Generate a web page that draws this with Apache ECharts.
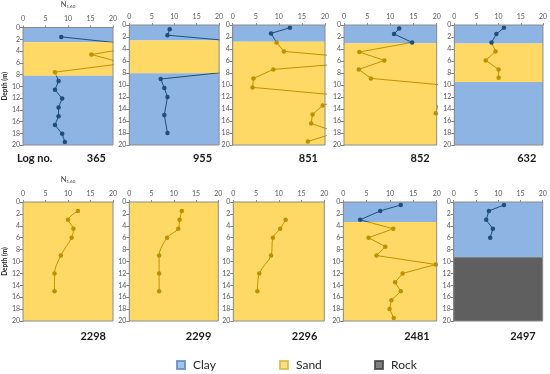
<!DOCTYPE html>
<html><head><meta charset="utf-8">
<script src="https://cdn.jsdelivr.net/npm/echarts@6/dist/echarts.min.js"></script>
<style>html,body{margin:0;padding:0;background:#fff}#c{width:550px;height:374px}</style>
</head><body><div id="c"></div>
<script>
// ---------- data ----------
const logNames = ['365', '955', '851', '852', '632', '2298', '2299', '2296', '2481', '2497'];
const xTickValues = [0, 5, 10, 15, 20];
const yTickValues = [0, 2, 4, 6, 8, 10, 12, 14, 16, 18, 20];
const soilTypes = ['Clay', 'Sand', 'Rock'];

const depth365 = [1.6, 3.1, 4.6, 6.1, 7.6, 9.1, 10.6, 12.1, 13.6, 15.1, 16.6, 18.1, 19.5];
const n365 = [8.5, 27, 15.2, 22.5, 7.1, 7.9, 7.1, 8.7, 7.9, 7.9, 7.1, 8.7, 9.3];
const layers365 = [['Clay', 0, 2.5], ['Sand', 2.5, 8.2], ['Clay', 8.2, 20]];

const depth955 = [0.7, 1.7, 3.0, 4.5, 6.0, 7.5, 9.0, 10.5, 12.0, 15.0, 18.0];
const n955 = [9.0, 8.5, 28, 40, 40, 26, 7.0, 7.8, 8.5, 7.8, 8.5];
const layers955 = [['Clay', 0, 2.6], ['Sand', 2.6, 8.05], ['Clay', 8.05, 20]];

const depth851 = [0.45, 1.4, 2.9, 4.4, 5.9, 7.4, 8.9, 10.4, 11.9, 13.4, 14.9, 16.4, 17.9, 19.4];
const n851 = [12.4, 8.3, 9.5, 11.1, 33, 8.8, 4.5, 4.3, 25.7, 19.5, 17.3, 17.0, 22.6, 16.3];
const layers851 = [['Clay', 0, 2.8], ['Sand', 2.8, 20]];

const depth852 = [0.6, 1.5, 2.9, 4.5, 5.9, 7.4, 8.9, 10.4, 11.9, 13.3, 14.7, 16.2, 17.7, 19.2];
const n852 = [11.9, 10.8, 14.7, 3.3, 8.7, 3.2, 5.8, 27, 30, 20.3, 19.8, 22, 28, 30];
const layers852 = [['Clay', 0, 3.05], ['Sand', 3.05, 20]];

const depth632 = [0.45, 1.5, 2.9, 4.4, 5.9, 7.4, 8.8];
const n632 = [11.2, 9.5, 8.4, 9.3, 7.1, 10.0, 10.0];
const layers632 = [['Clay', 0, 3.1], ['Sand', 3.1, 9.5], ['Clay', 9.5, 20]];

const depth2298 = [1.5, 3.0, 4.5, 6.0, 9.0, 12.0, 15.0];
const n2298 = [12.2, 10.0, 11.2, 10.8, 8.4, 7.0, 7.0];
const layers2298 = [['Sand', 0, 20]];

const depth2299 = [1.5, 3.0, 4.5, 6.0, 9.0, 12.0, 15.0];
const n2299 = [11.8, 11.3, 11.0, 8.5, 6.7, 6.7, 6.7];
const layers2299 = [['Sand', 0, 20]];

const depth2296 = [3.0, 4.5, 6.0, 9.0, 12.0, 15.0];
const n2296 = [11.5, 10.3, 8.7, 8.3, 5.7, 5.3];
const layers2296 = [['Sand', 0, 20]];

const depth2481 = [0.5, 1.5, 3.0, 4.5, 6.0, 7.5, 9.0, 10.5, 12.0, 13.5, 15.0, 16.5, 18.0, 19.5];
const n2481 = [12.3, 7.9, 3.6, 10.7, 5.4, 9.0, 7.1, 19.8, 12.7, 11.1, 12.3, 10.3, 9.9, 10.8];
const layers2481 = [['Clay', 0, 3.35], ['Sand', 3.35, 20]];

const depth2497 = [0.5, 1.5, 3.0, 4.5, 6.0];
const n2497 = [11.3, 7.9, 7.3, 8.8, 8.2];
const layers2497 = [['Clay', 0, 9.3], ['Rock', 9.3, 20]];

// ---------- layout / style ----------
const depths = [depth365, depth955, depth851, depth852, depth632, depth2298, depth2299, depth2296, depth2481, depth2497];
const nValues = [n365, n955, n851, n852, n632, n2298, n2299, n2296, n2481, n2497];
const layers = [layers365, layers955, layers851, layers852, layers632, layers2298, layers2299, layers2296, layers2481, layers2497];

const boxes = [
  [21.5, 25, 91.5, 120], [129.3, 25, 89.8, 120], [232.7, 25, 92.3, 120], [344, 25, 92.7, 120], [454.3, 25, 89, 120],
  [22, 202, 91, 119], [129.3, 202, 89, 119], [233.3, 202, 91, 119], [343.3, 202, 93.4, 119], [453.7, 202, 89, 119]
];
const fillColor = { Clay: '#8db4e2', Sand: '#ffd966', Rock: '#5f5f5f' };
const markColor = { Clay: '#1f4e79', Sand: '#bf9000', Rock: '#1f4e79' };
const FONT = 'Lato';

const grids = [], xAxes = [], yAxes = [], series = [], visualMaps = [], titles = [];

boxes.forEach((b, i) => {
  grids.push({ left: b[0], top: b[1], width: b[2], height: b[3], show: true, backgroundColor: 'transparent',
    borderColor: '#8a8a8a', borderWidth: 1, z: 10 });
  const firstCol = (i === 0 || i === 5);
  xAxes.push({
    type: 'value', gridIndex: i, position: 'top', min: xTickValues[0], max: xTickValues[xTickValues.length - 1],
    interval: xTickValues[1] - xTickValues[0], splitLine: { show: false },
    axisLine: { show: true, lineStyle: { color: '#8a8a8a' } },
    axisTick: { show: true, length: 2, lineStyle: { color: '#8a8a8a' } },
    axisLabel: { fontSize: 7, color: '#595959', margin: 5, fontFamily: FONT },
    name: firstCol ? '{n|N}{s|1,60}' : '', nameLocation: 'middle', nameGap: 18,
    nameTextStyle: { rich: { n: { fontSize: 7.5, color: '#404040', fontFamily: FONT }, s: { fontSize: 4.5, color: '#404040', fontFamily: FONT, padding: [4, 0, 0, 0] } } }
  });
  yAxes.push({
    type: 'value', gridIndex: i, inverse: true, min: yTickValues[0], max: yTickValues[yTickValues.length - 1],
    interval: yTickValues[1] - yTickValues[0], splitLine: { show: false },
    axisLine: { show: true, lineStyle: { color: '#7a7a7a' } },
    axisTick: { show: true, length: 3, lineStyle: { color: '#7a7a7a' } },
    axisLabel: { fontSize: 7, color: '#595959', margin: 3, fontFamily: FONT },
    name: firstCol ? 'Depth (m)' : '', nameLocation: 'middle', nameGap: 12,
    nameTextStyle: { fontSize: 6.5, fontWeight: 'bold', color: '#262626', fontFamily: FONT }
  });
  const lay = layers[i];
  series.push({
    type: 'custom', xAxisIndex: i, yAxisIndex: i, z: 1, silent: true,
    data: lay.map(l => [l[1], l[2]]), encode: { y: [0, 1] },
    renderItem: (params, api) => {
      const l = lay[params.dataIndex];
      const p0 = api.coord([xTickValues[0], l[1]]);
      const p1 = api.coord([xTickValues[xTickValues.length - 1], l[2]]);
      return { type: 'rect', shape: { x: p0[0], y: p0[1], width: p1[0] - p0[0], height: p1[1] - p0[1] },
        style: { fill: fillColor[l[0]] } };
    }
  });
  const lineIndex = series.length;
  series.push({
    type: 'line', xAxisIndex: i, yAxisIndex: i, z: 3, clip: true,
    smooth: (i >= 5 && i <= 7) ? 0.3 : false,
    symbol: 'circle', symbolSize: 4.5, lineStyle: { width: 1 },
    data: nValues[i].map((v, k) => [v, depths[i][k]])
  });
  visualMaps.push({
    type: 'piecewise', show: false, seriesIndex: lineIndex, dimension: 1,
    pieces: lay.map((l, k) => k === lay.length - 1
      ? { gte: l[1], lte: l[2] + 1, color: markColor[l[0]] }
      : { gte: l[1], lt: l[2], color: markColor[l[0]] })
  });
  const right = 550 - (b[0] + b[2]) + 2;
  titles.push({ text: logNames[i], right: right, top: i < 5 ? 148 : 326,
    textStyle: { fontSize: 11, fontWeight: 'bold', color: '#1a1a1a', fontFamily: FONT } });
});
titles.push({ text: 'Log no.', left: 12, top: 148,
  textStyle: { fontSize: 11, fontWeight: 'bold', color: '#1a1a1a', fontFamily: FONT } });

// legend proxy series
soilTypes.forEach(s => {
  series.push({ type: 'scatter', name: s, xAxisIndex: 0, yAxisIndex: 0, data: [],
    itemStyle: { color: fillColor[s], borderColor: s === 'Rock' ? '#404040' : (s === 'Clay' ? '#5b86c0' : '#d9b440'), borderWidth: 0.8 } });
});
const legendLeft = [171, 274, 369];
const legends = soilTypes.map((s, k) => ({
  data: [s], left: legendLeft[k], top: 354, icon: 'rect', itemWidth: 8, itemHeight: 8,
  selectedMode: false,
  textStyle: { fontSize: 12, color: '#262626', fontFamily: FONT, padding: [0, 0, 0, 3] }
}));

const chart = echarts.init(document.getElementById('c'), null, { renderer: 'canvas' });
chart.setOption({
  animation: false,
  textStyle: { fontFamily: FONT },
  title: titles,
  legend: legends,
  grid: grids, xAxis: xAxes, yAxis: yAxes,
  visualMap: visualMaps,
  series: series
});
</script></body></html>
